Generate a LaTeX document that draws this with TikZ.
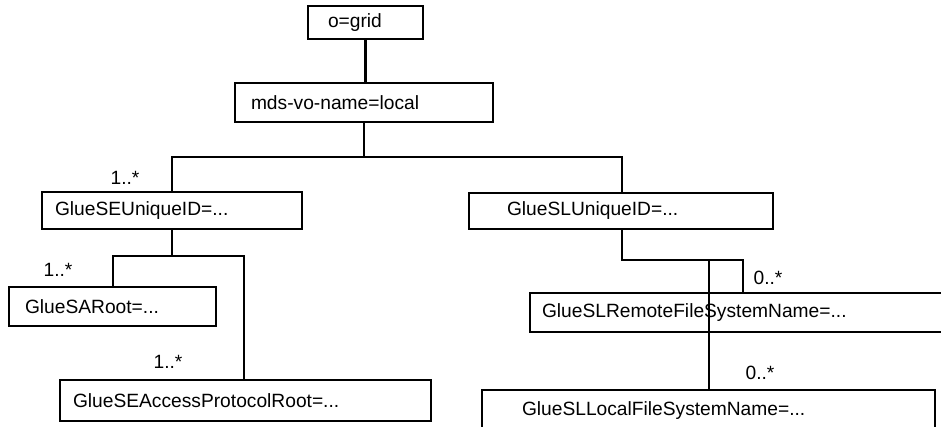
\documentclass[tikz,border=0pt]{standalone}
\usepackage{fontspec}
\setmainfont{Liberation Sans}
\usepackage{tikz}
\usetikzlibrary{positioning}

\newcommand{\tbc}{...}

\tikzset{
  entry/.style={draw,line width=2.2pt,rectangle,anchor=north west,align=left,
    inner ysep=0pt,outer sep=0pt,font=\fontsize{19.2}{23}\selectfont},
  mult/.style={inner sep=0pt,font=\fontsize{19.2}{23}\selectfont},
  link/.style={line width=2.2pt}
}

\begin{document}
\begin{tikzpicture}[x=1pt,y=-1pt]
\useasboundingbox[fill=white] (0,0) rectangle (941,427);
\clip (0,0) rectangle (941,427);
\foreach \name/\x/\y/\w/\h/\pad/\txt[evaluate=\w as \tw using \w-2*\pad] in {
  grid/308/6/115/33/20/o=grid,
  mds/235/83/258/39/16/mds-vo-name=local,
  seid/42/192/260/37/13/GlueSEUniqueID=\tbc,
  slid/469/193/304/36/38/GlueSLUniqueID=\tbc,
  saroot/9/287/207/39/16/GlueSARoot=\tbc,
  seap/60/380/371/41/13/GlueSEAccessProtocolRoot=\tbc,
  remote/530/293/430/39/12/GlueSLRemoteFileSystemName=\tbc,
  local/482/390/453/41/40/GlueSLLocalFileSystemName=\tbc
}
\node[entry,minimum width=\w pt,minimum height=\h pt,text width=\tw pt,inner xsep=\pad pt](\name) at(\x,\y){\txt};

% multiplicities
\node[mult] (m1) at (125,178) {1..*};
\node[mult] (m2) at (58,270) {1..*};
\node[mult] (m3) at (168,362) {1..*};
\node[mult] (m4) at (768,278) {0..*};
\node[mult] (m5) at (760,373) {0..*};

% tree lines
\draw[link] (grid.south) -- (grid.south |- mds.north);
\path (mds.south) ++(0,35) coordinate (b1);
\draw[link] (mds.south) -- (b1);
\draw[link] ([xshift=130pt]seid.north west) |- (b1) -| ([xshift=153pt]slid.north west);

\path ([xshift=130pt]seid.south west) ++(0,27) coordinate (b2);
\draw[link] ([xshift=130pt]seid.south west) -- (b2);
\draw[link] ([xshift=104pt]saroot.north west) |- (b2) -| ([xshift=184pt]seap.north west);

\path ([xshift=153pt]slid.south west) ++(0,31) coordinate (b3);
\draw[link] ([xshift=153pt]slid.south west) -- (b3) -| ([xshift=213pt]remote.north west);
\draw[link] ([xshift=227pt]local.north west) |- (b3);
\end{tikzpicture}
\end{document}
